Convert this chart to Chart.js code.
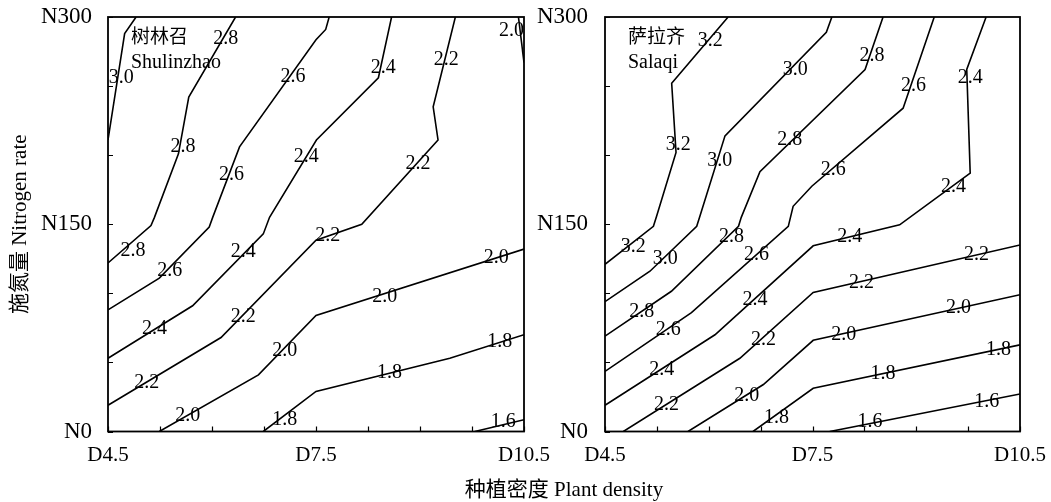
<!DOCTYPE html>
<html>
<head>
<meta charset="utf-8">
<script src="https://cdn.jsdelivr.net/npm/chart.js@4/dist/chart.umd.min.js"></script>
<style>
  html, body { margin: 0; padding: 0; background: #fff; }
  #wrap { position: relative; width: 1051px; height: 502px; overflow: hidden; }
  canvas { position: absolute; top: 0; }
  #left { left: 0; }
  #right { left: 520px; }
  #xtitle {
    position: absolute; left: 564px; top: 477px; transform: translateX(-50%);
    font: 21px 'Liberation Serif', 'Noto Sans CJK SC', serif; line-height: 24px;
    white-space: nowrap; color: #000;
  }
</style>
</head>
<body>
<div id="wrap">
  <canvas id="left" width="560" height="502"></canvas>
  <canvas id="right" width="536" height="502"></canvas>
  <div id="xtitle">种植密度 Plant density</div>
</div>
<script>
(function () {
  const FONT = "'Liberation Serif', 'Noto Sans CJK SC', serif";

  // axis ticks
  const X_LABEL_TICKS = [4.5, 7.5, 10.5];
  const Y_LABEL_TICKS = [0, 150, 300];
  const X_MINOR_TICKS = [4.5, 5.25, 6, 6.75, 7.5, 8.25, 9, 9.75, 10.5];
  const Y_MINOR_TICKS = [0, 50, 100, 150, 200, 250, 300];

  /** Shulinzhao contours: [density, nitrogen] */
  const SL_LINES = [
    [[4.905, 300], [4.74, 288], [4.5, 211]],                                                            // 3.0
    [[6.34, 300], [5.665, 242], [5.516, 201], [5.17, 155], [5.12, 149], [4.5, 122]],                    // 2.8
    [[7.69, 300], [7.64, 291], [7.5, 283.5], [6.397, 206], [6.01, 155], [5.96, 148], [5.24, 111], [4.5, 88]], // 2.6
    [[8.59, 300], [8.40, 256], [7.506, 211], [6.83, 155], [6.74, 143], [5.72, 91], [4.5, 53]],          // 2.4
    [[9.51, 300], [9.19, 235], [9.26, 211], [8.16, 150], [7.5, 138.5], [6.13, 68], [4.5, 19]],          // 2.2
    [[10.42, 300], [10.5, 267]],                                                                        // 2.0 corner
    [[10.5, 132], [7.5, 84], [6.67, 41], [5.24, 0]],                                                    // 2.0
    [[10.5, 70], [9.43, 53], [7.5, 29], [6.74, 0]],                                                     // 1.8
    [[10.5, 8.5], [9.79, 0]]                                                                            // 1.6
  ];
  const SL_LABELS = [
    ['3.0', 4.69, 256],
    ['2.8', 6.2, 284], ['2.8', 5.58, 206], ['2.8', 4.86, 131],
    ['2.6', 7.17, 257], ['2.6', 6.28, 185.6], ['2.6', 5.39, 116.7],
    ['2.4', 8.47, 263], ['2.4', 7.36, 199], ['2.4', 6.45, 130], ['2.4', 5.17, 74.5],
    ['2.2', 9.38, 269], ['2.2', 8.97, 194], ['2.2', 7.67, 141.4], ['2.2', 6.45, 82.9], ['2.2', 5.06, 35],
    ['2.0', 10.32, 290], ['2.0', 10.1, 126], ['2.0', 8.49, 97.4], ['2.0', 7.05, 58.7], ['2.0', 5.65, 11.6],
    ['1.8', 10.15, 64.8], ['1.8', 8.56, 42.3], ['1.8', 7.05, 8.7],
    ['1.6', 10.2, 6.7]
  ];

  /** Salaqi contours */
  const SQ_LINES = [
    [[6.28, 300], [5.464, 252], [5.527, 202], [5.247, 156], [5.2, 148.5], [4.5, 121]],                 // 3.2
    [[7.78, 300], [7.70, 289], [6.235, 214], [5.873, 156], [5.826, 148.5], [5.15, 116], [4.5, 94]],     // 3.0
    [[8.52, 300], [8.26, 262], [6.74, 188], [6.47, 155], [6.43, 148.5], [5.46, 101.5], [4.5, 69]],      // 2.8
    [[9.26, 300], [8.81, 234], [7.49, 177.5], [7.22, 163], [7.15, 148.5], [5.75, 86], [4.5, 43.5]],     // 2.6
    [[10.01, 300], [9.73, 262], [9.78, 187], [8.76, 149.6], [7.51, 134.4], [6.09, 70], [4.5, 19]],      // 2.4
    [[10.5, 135], [7.51, 100.6], [6.45, 53], [4.765, 0]],                                               // 2.2
    [[10.5, 99], [7.51, 66], [6.79, 34], [5.70, 0]],                                                    // 2.0
    [[10.5, 62.7], [7.51, 31.3], [6.64, 0]],                                                            // 1.8
    [[10.5, 27.2], [7.75, 0]]                                                                           // 1.6
  ];
  const SQ_LABELS = [
    ['3.2', 6.02, 282.5], ['3.2', 5.56, 207.6], ['3.2', 4.91, 133.6],
    ['3.0', 7.25, 262], ['3.0', 6.16, 195.6], ['3.0', 5.37, 125],
    ['2.8', 8.36, 271.6], ['2.8', 7.17, 211], ['2.8', 6.33, 141.3], ['2.8', 5.03, 87],
    ['2.6', 8.96, 250.4], ['2.6', 7.80, 189.6], ['2.6', 6.69, 128], ['2.6', 5.415, 73.8],
    ['2.4', 9.78, 256], ['2.4', 9.54, 177.4], ['2.4', 8.04, 141.3], ['2.4', 6.67, 95.5], ['2.4', 5.32, 44.9],
    ['2.2', 9.87, 127.9], ['2.2', 8.21, 107.4], ['2.2', 6.79, 66.6], ['2.2', 5.39, 19.5],
    ['2.0', 9.61, 89.3], ['2.0', 7.95, 69.9], ['2.0', 6.55, 26],
    ['1.8', 10.19, 59], ['1.8', 8.52, 41.7], ['1.8', 6.98, 9.9],
    ['1.6', 10.02, 21.6], ['1.6', 8.33, 7.1]
  ];

  // frame, inward tick marks, contour labels, site name
  const decorPlugin = {
    id: 'decor',
    afterDatasetsDraw(chart, args, opts) {
      const { ctx, chartArea: a, scales: { x, y } } = chart;
      ctx.save();
      ctx.strokeStyle = '#000';
      ctx.lineWidth = 1.2;
      ctx.beginPath();
      X_MINOR_TICKS.forEach(v => {
        const px = Math.round(x.getPixelForValue(v)) + 0.5;
        ctx.moveTo(px, a.bottom);
        ctx.lineTo(px, a.bottom - 5);
      });
      Y_MINOR_TICKS.forEach(v => {
        const py = Math.round(y.getPixelForValue(v)) + 0.5;
        ctx.moveTo(a.left, py);
        ctx.lineTo(a.left + 5, py);
      });
      ctx.stroke();
      ctx.lineWidth = 1.8;
      ctx.strokeRect(a.left, a.top, a.right - a.left, a.bottom - a.top);

      ctx.fillStyle = '#000';
      ctx.font = '20px ' + FONT;
      ctx.textAlign = 'center';
      ctx.textBaseline = 'middle';
      opts.labels.forEach(([txt, vx, vy]) => {
        ctx.fillText(txt, x.getPixelForValue(vx), y.getPixelForValue(vy));
      });

      ctx.textAlign = 'left';
      ctx.font = '19px ' + FONT;
      ctx.fillText(opts.siteCn, a.left + 23, a.top + 21);
      ctx.font = '20px ' + FONT;
      ctx.fillText(opts.siteEn, a.left + 23, a.top + 46);
      ctx.restore();
    }
  };

  function makeChart(id, lines, labels, siteCn, siteEn, yWidth, padRight, yPad, yTitle) {
    const datasets = lines.map(pts => ({
      data: pts.map(([vx, vy]) => ({ x: vx, y: vy })),
      showLine: true,
      borderColor: '#000',
      borderWidth: 1.6,
      pointRadius: 0,
      fill: false,
      tension: 0
    }));

    return new Chart(document.getElementById(id), {
      type: 'scatter',
      data: { datasets },
      plugins: [decorPlugin],
      options: {
        responsive: false,
        animation: false,
        layout: { padding: { top: 17, right: padRight, bottom: 0, left: 0 } },
        plugins: {
          legend: { display: false },
          tooltip: { enabled: false },
          decor: { labels, siteCn, siteEn }
        },
        scales: {
          x: {
            type: 'linear',
            min: 4.5,
            max: 10.5,
            grid: { display: false, drawTicks: false },
            border: { display: false },
            afterBuildTicks: s => { s.ticks = X_LABEL_TICKS.map(v => ({ value: v })); },
            afterFit: s => { s.height = 70.5; s.paddingLeft = 0; s.paddingRight = 0; },
            ticks: {
              autoSkip: false,
              maxRotation: 0,
              padding: 11,
              color: '#000',
              font: { family: FONT, size: 21 },
              callback: v => 'D' + v
            }
          },
          y: {
            type: 'linear',
            min: 0,
            max: 300,
            grid: { display: false, drawTicks: false },
            border: { display: false },
            afterBuildTicks: s => { s.ticks = Y_LABEL_TICKS.map(v => ({ value: v })); },
            afterFit: s => { s.width = yWidth; s.paddingTop = 0; s.paddingBottom = 0; },
            ticks: {
              autoSkip: false,
              padding: yPad,
              color: '#000',
              font: { family: FONT, size: 23 },
              callback: v => 'N' + v
            },
            title: {
              display: !!yTitle,
              text: yTitle || '',
              color: '#000',
              font: { family: FONT, size: 21 },
              padding: { top: 8, bottom: 0 }
            }
          }
        }
      }
    });
  }

  makeChart('left', SL_LINES, SL_LABELS, '树林召', 'Shulinzhao', 108, 36, 16, '施氮量 Nitrogen rate');
  makeChart('right', SQ_LINES, SQ_LABELS, '萨拉齐', 'Salaqi', 85, 36, 17, null);
})();
</script>
</body>
</html>
